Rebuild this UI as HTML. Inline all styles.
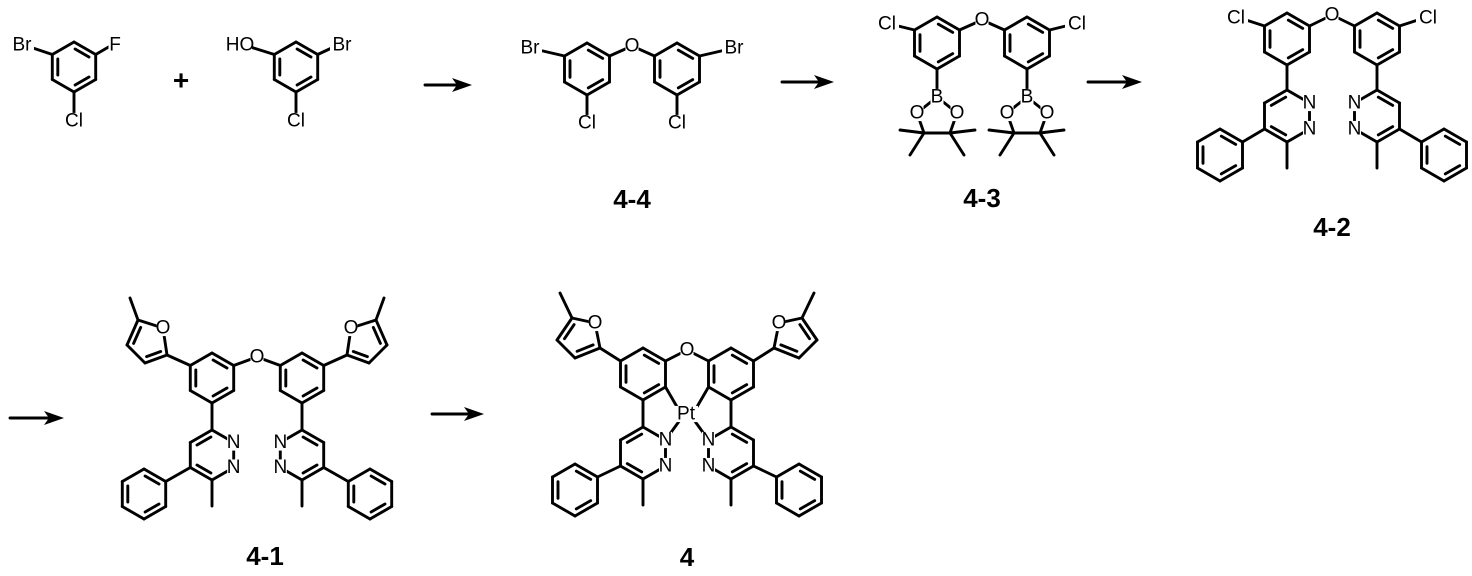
<!DOCTYPE html>
<html><head><meta charset="utf-8"><style>
html,body{margin:0;padding:0;background:#fff;}
svg{display:block;}
</style></head><body>
<svg id="s" width="1472" height="576" viewBox="0 0 1472 576" xmlns="http://www.w3.org/2000/svg"></svg>
<script>
let out='';const labs=[];
function ln(a,b,w){out+=`<line x1="${a[0].toFixed(1)}" y1="${a[1].toFixed(1)}" x2="${b[0].toFixed(1)}" y2="${b[1].toFixed(1)}" stroke="#000" stroke-width="${w||2.9}" stroke-linecap="round"/>`;}
function hexV(cx,cy,L){return [0,1,2,3,4,5].map(i=>{const a=(-90+60*i)*Math.PI/180;return [cx+L*Math.cos(a),cy+L*Math.sin(a)];});}
function cent(v){let x=0,y=0;v.forEach(p=>{x+=p[0];y+=p[1];});return [x/v.length,y/v.length];}
function inner(v,i){const c=cent(v),n=v.length,p=v[i],q=v[(i+1)%n];
 const m=[(p[0]+q[0])/2,(p[1]+q[1])/2];const dx=c[0]-m[0],dy=c[1]-m[1],d=Math.hypot(dx,dy);const ox=dx/d*5.5,oy=dy/d*5.5;
 const s=0.18;const a=[p[0]+(q[0]-p[0])*s+ox,p[1]+(q[1]-p[1])*s+oy],b=[q[0]+(p[0]-q[0])*s+ox,q[1]+(p[1]-q[1])*s+oy];ln(a,b);}
function ring(v,dbl){for(let i=0;i<v.length;i++)ln(v[i],v[(i+1)%v.length]);(dbl||[]).forEach(i=>inner(v,i));}
function lab(x,y,t,fs){labs.push([x,y,t,fs||19]);}
function M(mx,mir){return p=>mir?[2*mx-p[0],p[1]]:p;}
function arrow(x1,x2,y){ln([x1,y],[x2-10,y],2.9);out+=`<polygon points="${x2-20},${y-7} ${x2},${y} ${x2-20},${y+7} ${x2-15},${y}" fill="#000"/>`;}
function benz(cx,cy,L,dbl){const v=hexV(cx,cy,L);ring(v,dbl||[0,2,4]);return v;}

let v=benz(74,67,25);ln(v[5],[24,45]);lab(22,45,'Br');ln(v[1],[112,45]);lab(115,45,'F');ln(v[3],[74,116]);lab(74,121,'Cl');
lab(181,80,'+',28);
v=benz(296,67,25);ln(v[5],[244,45]);lab(240,45,'HO');ln(v[1],[338,45]);lab(342,45,'Br');ln(v[3],[296,116]);lab(296,121,'Cl');
arrow(425,472,85);

for(const mir of [0,1]){const f=M(632,mir);const c=f([587,69]);v=benz(c[0],c[1],26);
 const ul=mir?v[1]:v[5],ur=mir?v[5]:v[1];ln(ul,f([530,48]));lab(...f([530,48]),'Br');ln(ur,[632,46]);ln(v[3],f([587,118]));lab(...f([587,123]),'Cl');}
lab(632,46,'O');lab(632,199,'4-4',26);
arrow(782,834,82);

for(const mir of [0,1]){const f=M(982,mir);const c=f([937,43]);v=benz(c[0],c[1],26);
 const ul=mir?v[1]:v[5],ur=mir?v[5]:v[1];ln(ul,f([890,24]));lab(...f([887,24]),'Cl');ln(ur,[982,20]);
 const B=f([937,97]),O1=f([917,113]),O2=f([957,113]),C1=f([924,133]),C2=f([950,133]);
 ln(v[3],B);ln(B,O1);ln(B,O2);ln(O1,C1);ln(O2,C2);ln(C1,C2);
 ln(C1,f([900,130]));ln(C1,f([910,155]));ln(C2,f([975,130]));ln(C2,f([964,155]));
 lab(...B,'B');lab(...O1,'O');lab(...O2,'O');}
lab(982,20,'O');lab(982,198,'4-3',26);
arrow(1088,1142,82);

for(const mir of [0,1]){const f=M(1332,mir);let c=f([1287,39]);v=benz(c[0],c[1],26);
 const ul=mir?v[1]:v[5],ur=mir?v[5]:v[1];ln(ul,f([1240,18]));lab(...f([1236,18]),'Cl');ln(ur,[1332,15]);
 c=f([1287,116]);const p=hexV(c[0],c[1],26);ln(v[3],p[0]);
 for(let i=0;i<6;i++)ln(p[i],p[(i+1)%6]);inner(p,mir?0:5);inner(p,mir?2:3);
 const n1=mir?p[5]:p[1],n2=mir?p[4]:p[2],c5=mir?p[2]:p[4];lab(...n1,'N');lab(...n2,'N');
 ln(p[3],[p[3][0],168]);c=f([1220,155]);const ph=benz(c[0],c[1],26);ln(c5,mir?ph[5]:ph[1]);}
lab(1332,15,'O');lab(1332,227,'4-2',26);

arrow(10,64,418);
for(const mir of [0,1]){const f=M(257,mir);let c=f([212,378]);v=benz(c[0],c[1],25);
 const ul=mir?v[1]:v[5],ur=mir?v[5]:v[1];ln(ur,[257,357]);
 const C2=f([167,355]),O=f([163,328]),C5=f([138,320]),C4=f([127,345]),C3=f([145,363]);
 ln(ul,C2);const fu=[C2,O,C5,C4,C3];ring(fu,[]);inner(fu,2);inner(fu,4);lab(...O,'O');ln(C5,f([130,298]));
 c=f([212,455]);const p=hexV(c[0],c[1],25);ln(v[3],p[0]);
 for(let i=0;i<6;i++)ln(p[i],p[(i+1)%6]);inner(p,mir?0:5);inner(p,mir?2:3);
 const n1=mir?p[5]:p[1],n2=mir?p[4]:p[2],c5=mir?p[2]:p[4];lab(...n1,'N');lab(...n2,'N');
 ln(p[3],[p[3][0],506]);c=f([144,494]);const ph=benz(c[0],c[1],25);ln(c5,mir?ph[5]:ph[1]);}
lab(257,357,'O');lab(265,556,'4-1',26);

arrow(432,484,414);
for(const mir of [0,1]){const f=M(687,mir);let c=f([643,374]);v=benz(c[0],c[1],26);
 const ul=mir?v[1]:v[5],ur=mir?v[5]:v[1],lr=mir?v[4]:v[2];ln(ur,[687,350]);ln(lr,f([680,412]));
 const C2=f([600,348]),O=f([595,323]),C5=f([572,318]),C4=f([557,340]),C3=f([575,358]);
 ln(ul,C2);const fu=[C2,O,C5,C4,C3];ring(fu,[]);inner(fu,2);inner(fu,4);lab(...O,'O');ln(C5,f([560,293]));
 c=f([643,453]);const p=hexV(c[0],c[1],26);ln(v[3],p[0]);
 for(let i=0;i<6;i++)ln(p[i],p[(i+1)%6]);inner(p,mir?0:5);inner(p,mir?2:3);
 const n1=mir?p[5]:p[1],n2=mir?p[4]:p[2],c5=mir?p[2]:p[4];ln(n1,f([680,420]));lab(...n1,'N');lab(...n2,'N');
 ln(p[3],[p[3][0],505]);c=f([575,490]);const ph=benz(c[0],c[1],26);ln(c5,mir?ph[5]:ph[1]);}
lab(687,350,'O');lab(686,414,'Pt');lab(687,557,'4',26);

labs.forEach(([x,y,t,fs])=>{const bold=fs>=26||t==='+';const w=t.length*fs*0.58+2,h=fs*0.85;
 if(!bold)out+=`<rect x="${x-w/2}" y="${y-h/2}" width="${w}" height="${h}" fill="#fff"/>`;
 out+=`<text x="${x}" y="${y}" text-anchor="middle" dominant-baseline="central" font-family="Liberation Sans, Arial, sans-serif" font-size="${fs}" ${bold?'font-weight="bold"':''}>${t}</text>`;});
document.getElementById('s').innerHTML=out;
</script>
</body></html>
